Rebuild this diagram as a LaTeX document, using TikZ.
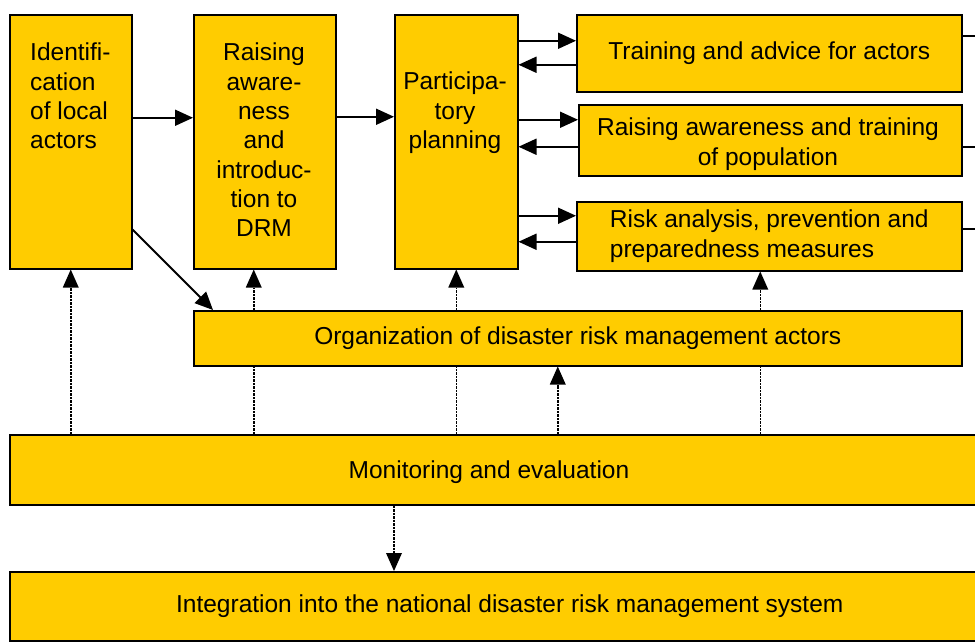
\documentclass[tikz,border=0pt]{standalone}
\usepackage{fontspec}
\setmainfont{Liberation Sans}
\usetikzlibrary{arrows.meta,calc}
\definecolor{drmyellow}{HTML}{FFCC00}

\begin{document}
\begin{tikzpicture}[x=1pt,y=-1pt,
        box/.style={draw,fill=drmyellow,line width=1.5pt,inner sep=0pt,anchor=north west,
            font=\fontsize{24.5}{29.3}\selectfont},
        txt/.style={inner sep=0pt,font=\fontsize{24.5}{29.3}\selectfont},
        arr/.style={line width=1.8pt,-{Triangle[length=18pt,width=16pt]}},
        dotline/.style={line width=1.5pt,dash pattern=on 2.5pt off 1pt},
        dotarr/.style={dotline,-{Triangle[length=18pt,width=16pt,line width=0pt]}}]
    \clip (0,0) rectangle (975,641);
    \fill[white] (0,0) rectangle (975,641);

    % top row
    \node[box,minimum width=122pt,minimum height=254pt] (ida) at (9,14) {};
    \node[box,minimum width=142pt,minimum height=254pt] (raise) at (193,14) {};
    \node[box,minimum width=123pt,minimum height=254pt] (plan) at (394,14) {};
    \node[txt,anchor=north west,align=left] (idatxt) at (30,43) {Identifi-\\cation\\of local\\actors};
    \node[txt,anchor=north,align=center] (raisetxt) at (264,43) {Raising\\aware-\\ness\\and\\introduc-\\tion to\\DRM};
    \node[txt,anchor=north,align=center] (plantxt) at (455,72) {Participa-\\tory\\planning};

    % right column
    \node[box,minimum width=385pt,minimum height=77pt] (train) at (576,14) {Training and advice for actors};
    \node[box,minimum width=383pt,minimum height=71pt] (popu) at (578,104) {};
    \node[txt,anchor=north,align=center] (poputxt) at (768,118) {Raising awareness and training\\of population};
    \node[box,minimum width=385pt,minimum height=69pt,align=left] (risk) at (576,201) {Risk analysis, prevention and\\preparedness measures};

    % wide boxes
    \node[box,minimum width=768pt,minimum height=55pt] (org) at (193,310) {Organization of disaster risk management actors};
    \node[box,minimum width=1000pt,minimum height=70pt] (moni) at (9,434) {};
    \node[txt,anchor=base] (monitxt) at (489,478) {Monitoring and evaluation};
    \node[box,minimum width=1000pt,minimum height=69pt] (integ) at (9,571) {Integration into the national disaster risk management system};

    % solid arrows
    \draw[arr] ([yshift=24pt]ida.east) -- ([yshift=24pt]raise.west);
    \draw[arr] ([yshift=25pt]raise.east) -- ([yshift=25pt]plan.west);
    \draw[arr] ($(ida.south east)+(0,-40)$) -- ($(org.north west)+(20,0)$);
    \coordinate (edge) at (990,0);
    \foreach \b/\f/\k/\r in {train/-12.5/11.5/-17.5, popu/-20.5/6.5/6.5, risk/-20.5/5.5/-7.5} {
        \draw[arr] ($(plan.east |- \b.west)+(0,\f)$) -- ($(\b.west)+(0,\f)$);
        \draw[arr] ($(\b.west)+(0,\k)$) -- ($(plan.east |- \b.west)+(0,\k)$);
        \draw[line width=1.8pt] ($(\b.east)+(0,\r)$) -- ($(edge |- \b.east)+(0,\r)$);
    }

    % dotted arrows
    \coordinate (up2) at ($(raise.south)+(-11,0)$);
    \coordinate (up4) at ($(risk.south)+(-9,0)$);
    \coordinate (up5) at ($(org.south)+(-20,0)$);
    \draw[dotarr] (moni.north -| ida.south) -- (ida.south);
    \foreach \c in {up2,plan.south,up4} {
        \draw[dotline] (moni.north -| \c) -- (org.south -| \c);
        \draw[dotarr] (org.north -| \c) -- (\c);
    }
    \draw[dotarr] (moni.north -| up5) -- (up5);
    \draw[dotarr] (moni.south -| plan.west) -- (integ.north -| plan.west);
\end{tikzpicture}
\end{document}
